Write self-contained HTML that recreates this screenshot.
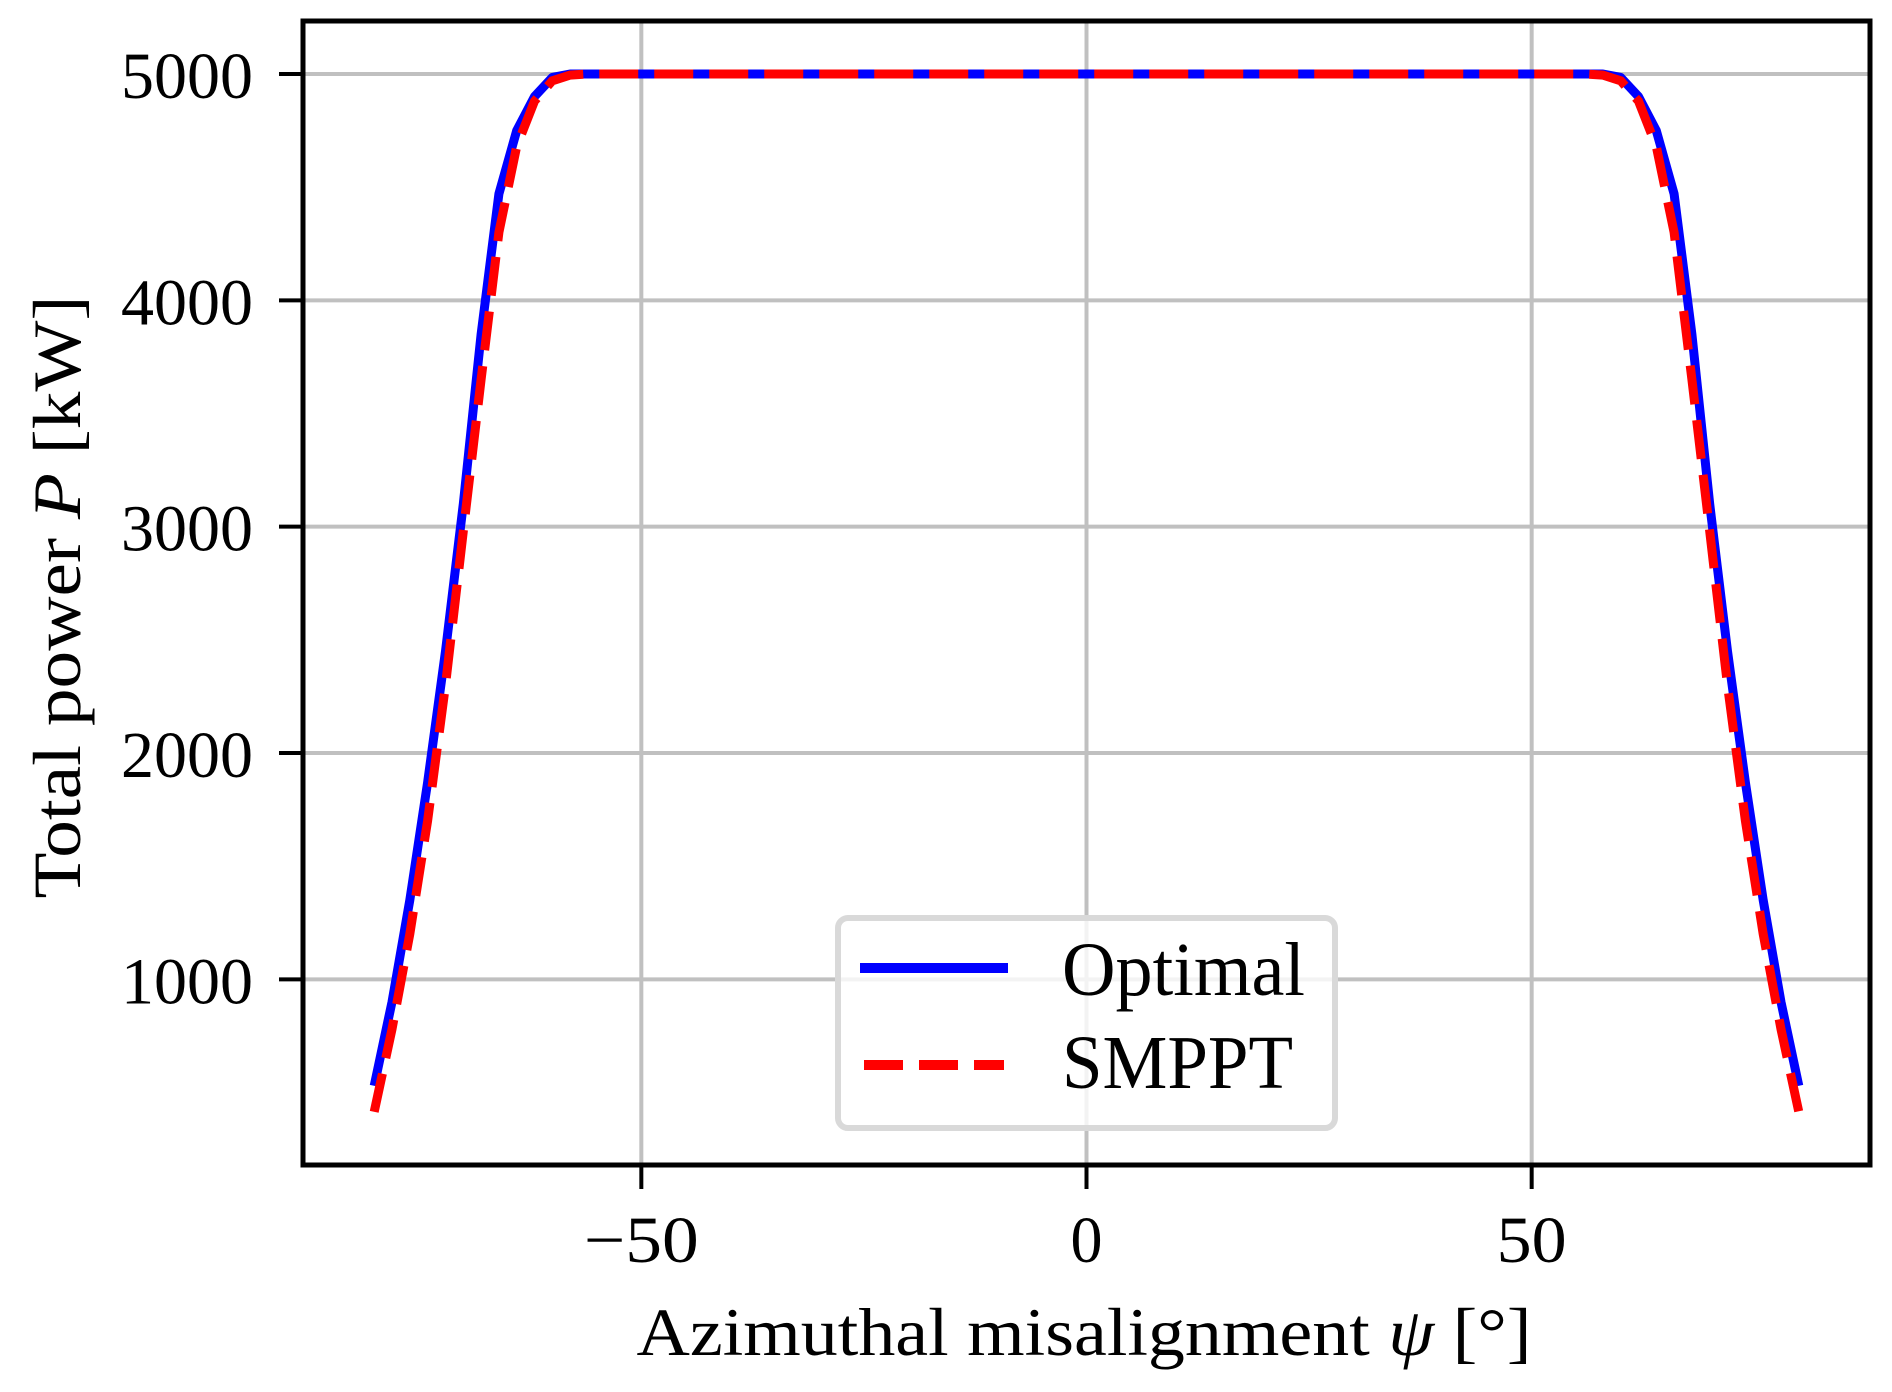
<!DOCTYPE html>
<html><head><meta charset="utf-8"><style>
html,body{margin:0;padding:0;background:#fff}
svg{display:block}
text{font-family:"Liberation Serif","DejaVu Serif",serif;fill:#000}
</style></head><body>
<svg id="chart" width="1892" height="1392" viewBox="0 0 1892 1392">
<g id="grid"></g>
<g id="series"></g>
<rect x="303" y="21" width="1567" height="1144" fill="none" stroke="#000" stroke-width="5"/>
<g id="ticks"></g>
<text x="1084" y="1355" font-size="68" text-anchor="middle" textLength="895" lengthAdjust="spacingAndGlyphs">Azimuthal misalignment <tspan font-style="italic">ψ</tspan> [°]</text>
<text transform="translate(80,597) rotate(-90)" font-size="68" text-anchor="middle" textLength="603" lengthAdjust="spacingAndGlyphs">Total power <tspan font-style="italic">P</tspan> [kW]</text>
<g>
<rect x="838" y="918" width="497" height="210" rx="10" fill="#fff" fill-opacity="0.8" stroke="#d9d9d9" stroke-width="6"/>
<line x1="860" y1="968" x2="1008" y2="968" stroke="#0000ff" stroke-width="10"/>
<text x="1062" y="995" font-size="76" textLength="243" lengthAdjust="spacingAndGlyphs">Optimal</text>
<line x1="864" y1="1065" x2="1004" y2="1065" stroke="#ff0000" stroke-width="10" stroke-dasharray="39,16"/>
<text x="1062" y="1088" font-size="76" textLength="231" lengthAdjust="spacingAndGlyphs">SMPPT</text>
</g>
</svg>
<script>
const psi = [-80,-78,-76,-74,-72,-70,-68,-66,-64,-62,-60,-58,-56,-54,0,54,56,58,60,62,64,66,68,70,72,74,76,78,80];
const optimal = [530,900,1350,1870,2450,3100,3850,4470,4750,4900,4985,5000,5000,5000,5000,5000,5000,5000,4985,4900,4750,4470,3850,3100,2450,1870,1350,900,530];
const smppt = [415,780,1200,1700,2300,2980,3650,4300,4680,4880,4970,4995,5000,5000,5000,5000,5000,4995,4970,4880,4680,4300,3650,2980,2300,1700,1200,780,415];
const xTicks = [-50,0,50];
const xTickLabels = ["−50","0","50"];
const yTicks = [1000,2000,3000,4000,5000];
const yTickLabels = ["1000","2000","3000","4000","5000"];
const L=303,R=1870,T=21,B=1165, xMin=-88,xMax=88,yMin=180,yMax=5234;
const sx=v=>L+(v-xMin)/(xMax-xMin)*(R-L);
const sy=v=>B-(v-yMin)/(yMax-yMin)*(B-T);
const NS="http://www.w3.org/2000/svg";
const g=document.getElementById('grid'),tk=document.getElementById('ticks'),s=document.getElementById('series');
function mk(tag,attrs,parent){const e=document.createElementNS(NS,tag);for(const k in attrs)e.setAttribute(k,attrs[k]);parent.appendChild(e);return e;}
const xLabelW=[115,32,70];
xTicks.forEach((v,i)=>{
 const x=sx(v);
 const gl=mk('line',{x1:x,x2:x,y1:T,y2:B,stroke:'#c0c0c0','stroke-width':4},g);
 
 
 const t=mk('line',{x1:x,x2:x,y1:B,y2:B+24,stroke:'#000','stroke-width':4},tk);
 
 
 const lb=mk('text',{x:x,y:1262,'font-size':66,'text-anchor':'middle',textLength:xLabelW[i],lengthAdjust:'spacingAndGlyphs'},tk);
 lb.textContent=xTickLabels[i];
 
 
});
yTicks.forEach((v,i)=>{
 const y=sy(v);
 const gl=mk('line',{x1:L,x2:R,y1:y,y2:y,stroke:'#c0c0c0','stroke-width':4},g);
 
 
 const t=mk('line',{x1:L-24,x2:L,y1:y,y2:y,stroke:'#000','stroke-width':4},tk);
 
 
 const lb=mk('text',{x:253,y:y+24,'font-size':66,'text-anchor':'end',textLength:132,lengthAdjust:'spacingAndGlyphs'},tk);
 lb.textContent=yTickLabels[i];
 
 
});
const pts=arr=>psi.map((p,i)=>sx(p).toFixed(1)+','+sy(arr[i]).toFixed(1)).join(' ');
const lo=mk('polyline',{points:pts(optimal),fill:'none',stroke:'#0000ff','stroke-width':9,'stroke-linejoin':'round'},s);


const ls=mk('polyline',{points:pts(smppt),fill:'none',stroke:'#ff0000','stroke-width':9,'stroke-dasharray':'39,16'},s);


</script>
</body></html>
